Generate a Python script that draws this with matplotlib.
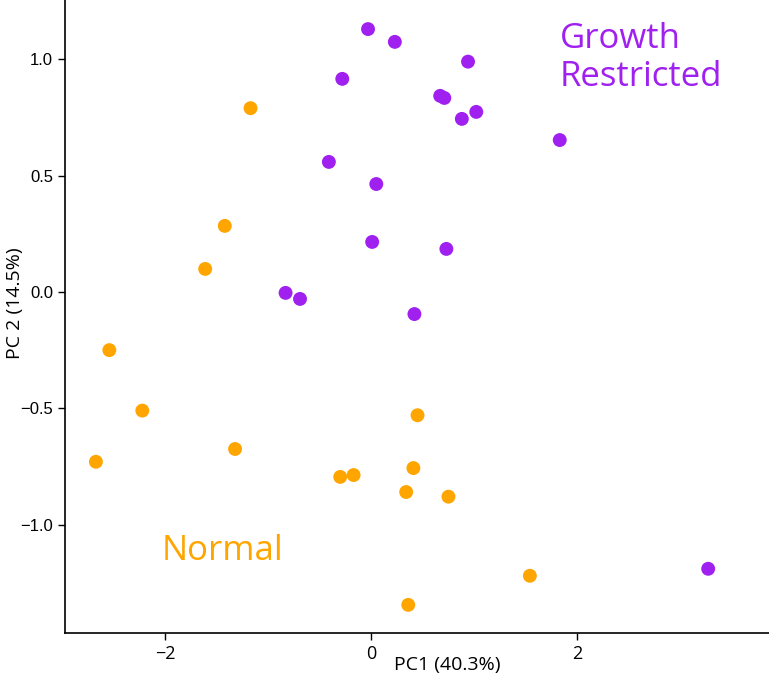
import matplotlib
matplotlib.use("Agg")
import matplotlib.pyplot as plt

# PCA scores
normal_pc1 = [-1.17, -1.42, -1.61, -2.54, -2.22, -2.67, -1.32, 0.45, -0.30, -0.17, 0.41, 0.34, 0.75, 1.54, 0.36]
normal_pc2 = [0.79, 0.284, 0.099, -0.25, -0.51, -0.73, -0.675, -0.53, -0.795, -0.787, -0.757, -0.86, -0.88, -1.22, -1.345]

gr_pc1 = [-0.03, 0.23, 0.94, -0.28, 0.67, 0.71, 1.02, 0.88, 1.83, -0.41, 0.05, 0.01, 0.73, -0.83, -0.69, 0.42, 3.27]
gr_pc2 = [1.13, 1.075, 0.99, 0.916, 0.843, 0.834, 0.774, 0.744, 0.653, 0.559, 0.464, 0.215, 0.185, -0.004, -0.03, -0.095, -1.19]

x_ticks = [-2, 0, 2]
y_ticks = [-1.0, -0.5, 0.0, 0.5, 1.0]

orange = '#FFA500'
purple = '#A020F0'

fig = plt.figure(figsize=(7.69, 6.78), dpi=100)
ax = fig.add_axes([65 / 769, 45 / 678, 1 - 65 / 769, 1 - 45 / 678])

ax.scatter(normal_pc1, normal_pc2, s=100, color=orange, edgecolors='none', zorder=3)
ax.scatter(gr_pc1, gr_pc2, s=100, color=purple, edgecolors='none', zorder=3)

ax.set_xlim(-2.97, 3.86)
ax.set_ylim(-1.466, 1.255)

ax.spines['top'].set_visible(False)
ax.spines['right'].set_visible(False)
for sp in ('left', 'bottom'):
    ax.spines[sp].set_linewidth(1.2)

ax.tick_params(direction='out', length=5, width=1)
ax.set_xticks(x_ticks)
ax.set_xticklabels(['\u22122', '0', '2'], fontfamily='Open Sans', fontsize=13)
ax.set_yticks(y_ticks)
ax.set_yticklabels(['\u22121.0', '\u22120.5', '0.0', '0.5', '1.0'],
                   fontfamily='Liberation Sans', fontsize=12)

ax.set_xlabel('PC1 (40.3%)', fontfamily='Open Sans', fontsize=14)
ax.set_ylabel('PC 2 (14.5%)', fontfamily='Open Sans', fontsize=14)
ax.xaxis.set_label_coords(0.543, -0.037)
ax.yaxis.set_label_coords(-0.058, 0.521)

ax.text(1.83, 1.16, 'Growth\nRestricted', color=purple, fontsize=25,
        fontfamily='Open Sans', ha='left', va='top', linespacing=1.15)
ax.text(-2.03, -1.115, 'Normal', color=orange, fontsize=25,
        fontfamily='Open Sans', ha='left', va='center')

fig.savefig('out.png', dpi=100)
